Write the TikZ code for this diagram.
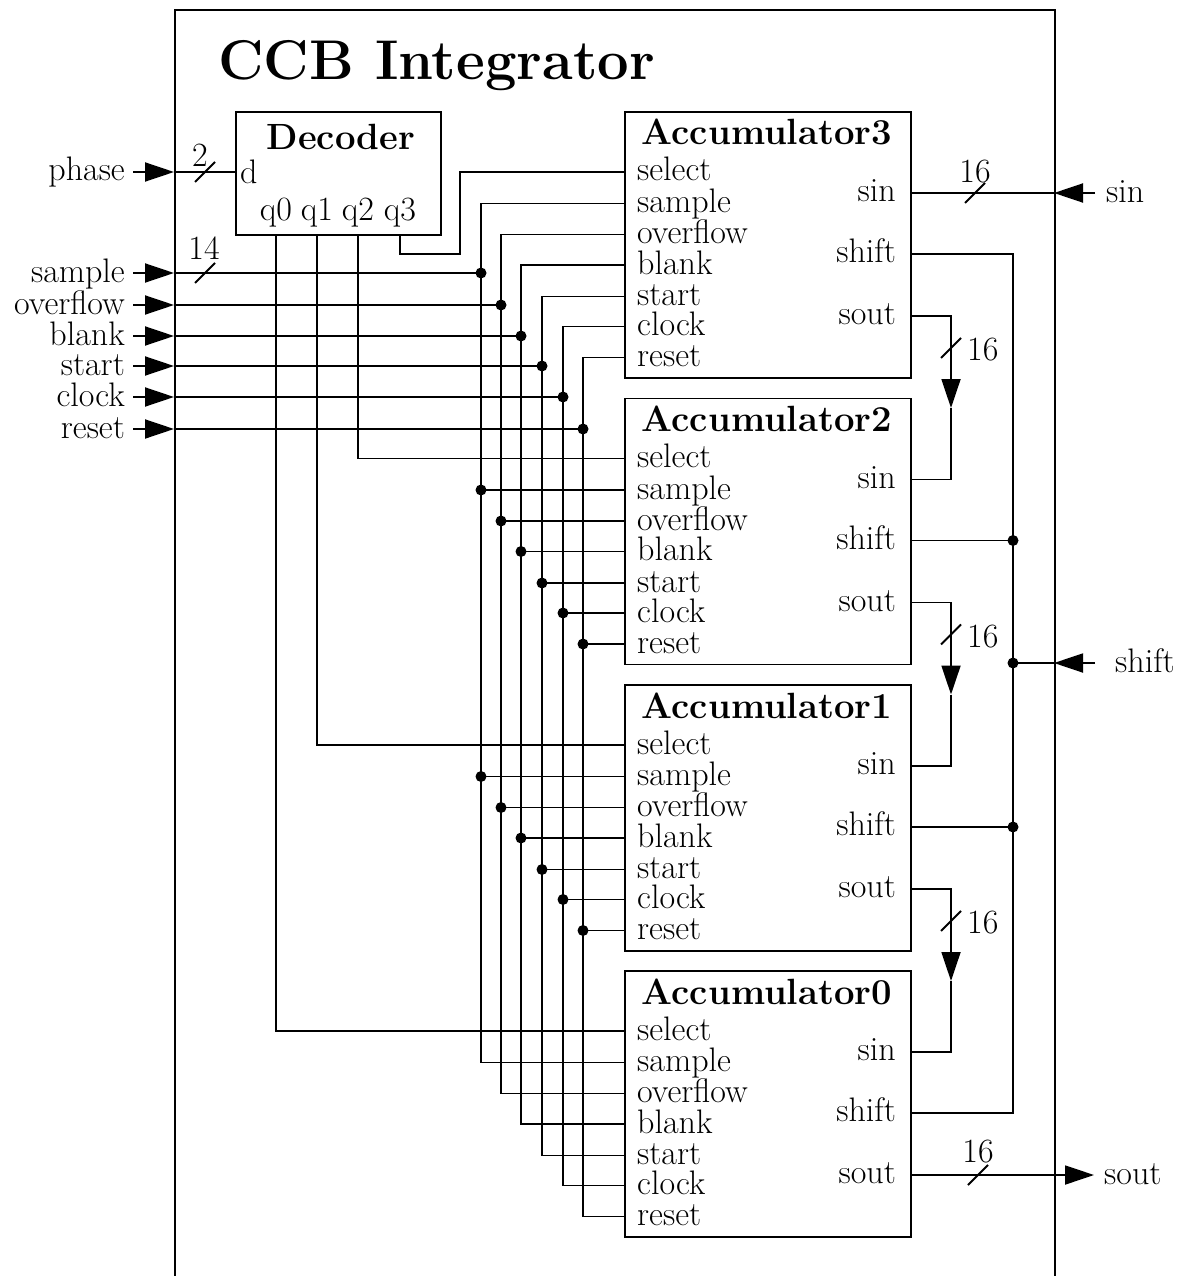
\documentclass[tikz,border=0pt]{standalone}
\usepackage{fontspec}
\usetikzlibrary{arrows.meta}
\begin{document}
\begin{tikzpicture}[x=1pt,y=-1pt,
  wire/.style={line width=1.9pt},
  box/.style={draw,line width=1.9pt,inner sep=0pt,anchor=north west},
  lbl/.style={inner sep=0pt,font=\fontsize{34}{40}\selectfont},
  blbl/.style={inner sep=0pt,font=\fontsize{36.5}{42}\selectfont\bfseries},
  num/.style={inner sep=0pt,font=\fontsize{34}{40}\selectfont},
  inarrow/.style={line width=1.9pt,-{Triangle[length=29pt,width=19pt]}},
  busslash/.style={line width=1.9pt},
]
\useasboundingbox (0,0) rectangle (1185,1276);

% frame and title
\node[box,minimum width=880pt,minimum height=1300pt] (frame) at (174,9) {};
\node[anchor=base west,inner sep=0pt,font=\fontsize{56}{64}\selectfont\bfseries] (title) at (218,80) {CCB Integrator};

% decoder
\node[box,minimum width=205pt,minimum height=123pt] (dec) at (235,111) {};
\node[blbl,anchor=base] (dec-title) at (341,150) {Decoder};
\node[lbl,anchor=base west] (dec-d-l) at (240,184) {d};
\foreach \q/\x in {0/276,1/317,2/358,3/400}{
  \node[lbl,anchor=base] (dec-q\q-l) at (\x,220) {q\q};
  \coordinate (dec-q\q) at (\x,234);
}
\coordinate (dec-d) at (235,172);

% accumulators
\foreach \i/\T in {3/111,2/397.5,1/684,0/970}{
  \node[box,minimum width=286pt,minimum height=266pt] (acc\i) at (624,\T) {};
  \node[blbl,anchor=base] (acc\i-title) at (767,\T+34) {Accumulator\i};
  \foreach \p/\o in {select/61,sample/92.5,overflow/123.5,blank/154,start/185.5,clock/215.5,reset/246.5}{
    \coordinate (acc\i-\p) at (624,\T+\o);
    \node[lbl,anchor=base west] (acc\i-\p-l) at (637,\T+\o+9) {\p};
  }
  \foreach \p/\o in {sin/82,shift/143,sout/205}{
    \coordinate (acc\i-\p) at (910,\T+\o);
    \node[lbl,anchor=base east] (acc\i-\p-l) at (896,\T+\o+8.5) {\p};
  }
}

% external inputs on the left
\foreach \s/\y in {phase/172,sample/273,overflow/305,blank/336,start/366,clock/397,reset/429}{
  \node[lbl,anchor=base east] (ext-\s) at (125,\y+9) {\s};
  \coordinate (src-\s) at (133,\y);
  \coordinate (in-\s) at (174,\y);
  \draw[inarrow] (src-\s) -- (in-\s);
}
\draw[wire] (in-phase) -- (dec-d);
\draw[busslash] (205,172) ++(-10,10) -- ++(20,-20);
\node[num] (n-phase) at (200,155) {2};
\draw[busslash] (205,273) ++(-10,10) -- ++(20,-20);
\node[num] (n-ctl) at (204,248) {14};

% control bus
\foreach \s/\x/\y in {sample/481/273,overflow/501/305,blank/521/336,start/542/366,clock/563/397,reset/583/429}{
  \coordinate (bus-\s) at (\x,\y);
  \draw[wire] (in-\s) -- (bus-\s);
  \draw[wire] (acc3-\s) -| (bus-\s) |- (acc0-\s);
  \fill (bus-\s) circle (5.5pt);
  \foreach \k in {2,1}{
    \draw[wire] (acc\k-\s) -- (acc\k-\s -| bus-\s);
    \fill (acc\k-\s -| bus-\s) circle (5.5pt);
  }
}

% decoder outputs
\coordinate (q3j) at (460,254);
\draw[wire] (dec-q3) |- (q3j) |- (acc3-select);
\draw[wire] (dec-q2) |- (acc2-select);
\draw[wire] (dec-q1) |- (acc1-select);
\draw[wire] (dec-q0) |- (acc0-select);

% sin input
\coordinate (src-sin) at (1095,193);
\coordinate (edge-sin) at (1054,193);
\draw[inarrow] (src-sin) -- (edge-sin);
\draw[wire] (edge-sin) -- (acc3-sin);
\node[lbl,anchor=base west] (ext-sin) at (1106,202) {sin};
\draw[busslash] (975,193) ++(-10,10) -- ++(20,-20);
\node[num] (n-sin) at (975,172) {16};

% shift bus
\coordinate (shbus) at (1013,663);
\coordinate (src-shift) at (1095,663);
\coordinate (edge-shift) at (1054,663);
\draw[inarrow] (src-shift) -- (edge-shift);
\draw[wire] (edge-shift) -- (shbus);
\node[lbl,anchor=base west] (ext-shift) at (1115,672) {shift};
\draw[wire] (acc3-shift) -| (shbus) |- (acc0-shift);
\fill (shbus) circle (5.5pt);
\foreach \k in {2,1}{
  \draw[wire] (acc\k-shift) -- (acc\k-shift -| shbus);
  \fill (acc\k-shift -| shbus) circle (5.5pt);
}

% sout -> sin chain
\foreach \i/\j/\T in {3/2/111,2/1/397.5,1/0/684}{
  \coordinate (tip\i) at (951,\T+297);
  \draw[inarrow] (acc\i-sout) -| (tip\i);
  \draw[wire] (tip\i) |- (acc\j-sin);
  \draw[busslash] (951,\T+237) ++(-10,10) -- ++(20,-20);
  \node[num,anchor=west] (n-chain\i) at (967,\T+239) {16};
}

% sout output
\coordinate (out-sout) at (1094,1175);
\draw[inarrow] (acc0-sout) -- (out-sout);
\node[lbl,anchor=base west] (ext-sout) at (1104,1184) {sout};
\draw[busslash] (978,1175) ++(-10,10) -- ++(20,-20);
\node[num] (n-sout) at (978,1152) {16};
\end{tikzpicture}
\end{document}
